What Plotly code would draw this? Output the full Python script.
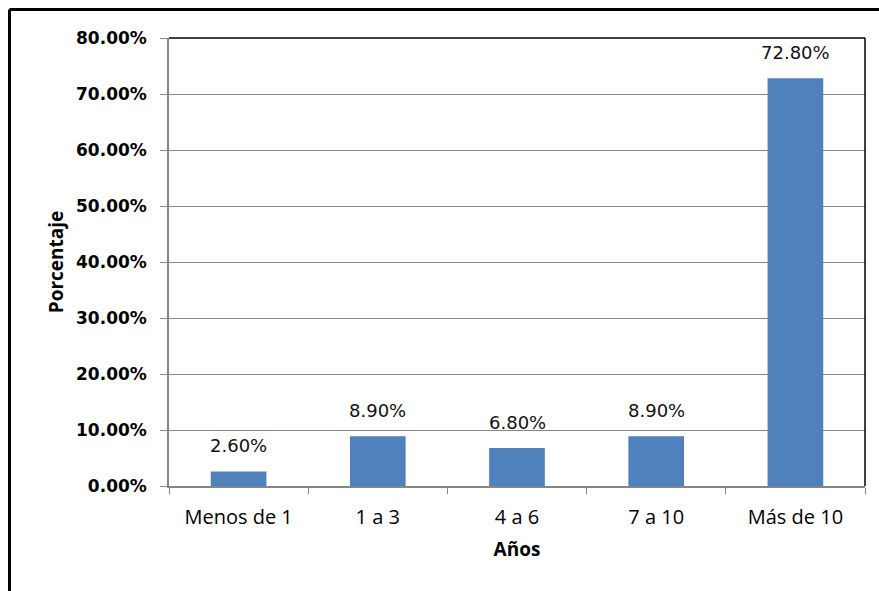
import plotly.graph_objects as go

# Years of service distribution
categorias = ["Menos de 1", "1 a 3", "4 a 6", "7 a 10", "Más de 10"]
porcentajes = [2.60, 8.90, 6.80, 8.90, 72.80]
y_ticks = [0, 10, 20, 30, 40, 50, 60, 70, 80]
y_tick_labels = [f"{v:.2f}%" for v in y_ticks]

W, H = 879, 591
L, R, T, B = 169, 14, 38, 105
pw, ph = W - L - R, H - T - B

fig = go.Figure()
fig.add_trace(go.Bar(
    x=categorias, y=porcentajes,
    marker=dict(color="#4F81BD", line=dict(width=0)),
    hoverinfo="skip",
))

# value labels above each bar
for c, v in zip(categorias, porcentajes):
    fig.add_annotation(
        x=c, y=v, text=f"{v:.2f}%", showarrow=False,
        yanchor="bottom", yshift=13,
        font=dict(family="DejaVu Sans", size=18, color="#111111"),
    )

# frame around the whole chart (left and top edges visible)
fx0 = (9.5 - L) / pw
fy1 = 1 + (T - 9.5) / ph
fig.add_shape(type="line", xref="paper", yref="paper",
              x0=fx0, x1=fx0, y0=-2, y1=fy1, line=dict(color="black", width=3))
fig.add_shape(type="line", xref="paper", yref="paper",
              x0=fx0, x1=2, y0=fy1, y1=fy1, line=dict(color="black", width=3))

# plot-area border on top and right
fig.add_shape(type="line", xref="paper", yref="paper",
              x0=0, x1=1, y0=1, y1=1, line=dict(color="black", width=1.5))
fig.add_shape(type="line", xref="paper", yref="paper",
              x0=1, x1=1, y0=0, y1=1, line=dict(color="black", width=1.5))

fig.update_layout(
    width=W, height=H,
    margin=dict(l=L, r=R, t=T, b=B, pad=0),
    paper_bgcolor="white", plot_bgcolor="white",
    bargap=0.6, showlegend=False,
    xaxis=dict(
        type="category",
        showline=True, linecolor="#868686", linewidth=1.5,
        ticks="outside", tickson="boundaries", ticklen=6,
        tickcolor="#868686", tickwidth=1,
        ticklabelstandoff=12,
        showgrid=False,
        tickfont=dict(family="Open Sans", size=20, color="black"),
        title=dict(text="Años", standoff=14,
                   font=dict(family="Open Sans", size=19, color="black", weight="bold")),
    ),
    yaxis=dict(
        range=[0, 80],
        tickvals=y_ticks, ticktext=y_tick_labels,
        showline=True, linecolor="#868686", linewidth=1.5,
        ticks="outside", ticklen=7, tickcolor="#868686", tickwidth=1,
        ticklabelstandoff=10,
        showgrid=True, gridcolor="#868686", gridwidth=1,
        zeroline=False,
        tickfont=dict(family="DejaVu Sans", size=17, color="black", weight="bold"),
        title=dict(text="Porcentaje", standoff=7,
                   font=dict(family="Open Sans", size=19, color="black", weight="bold")),
    ),
)

fig.write_html("out.html")
